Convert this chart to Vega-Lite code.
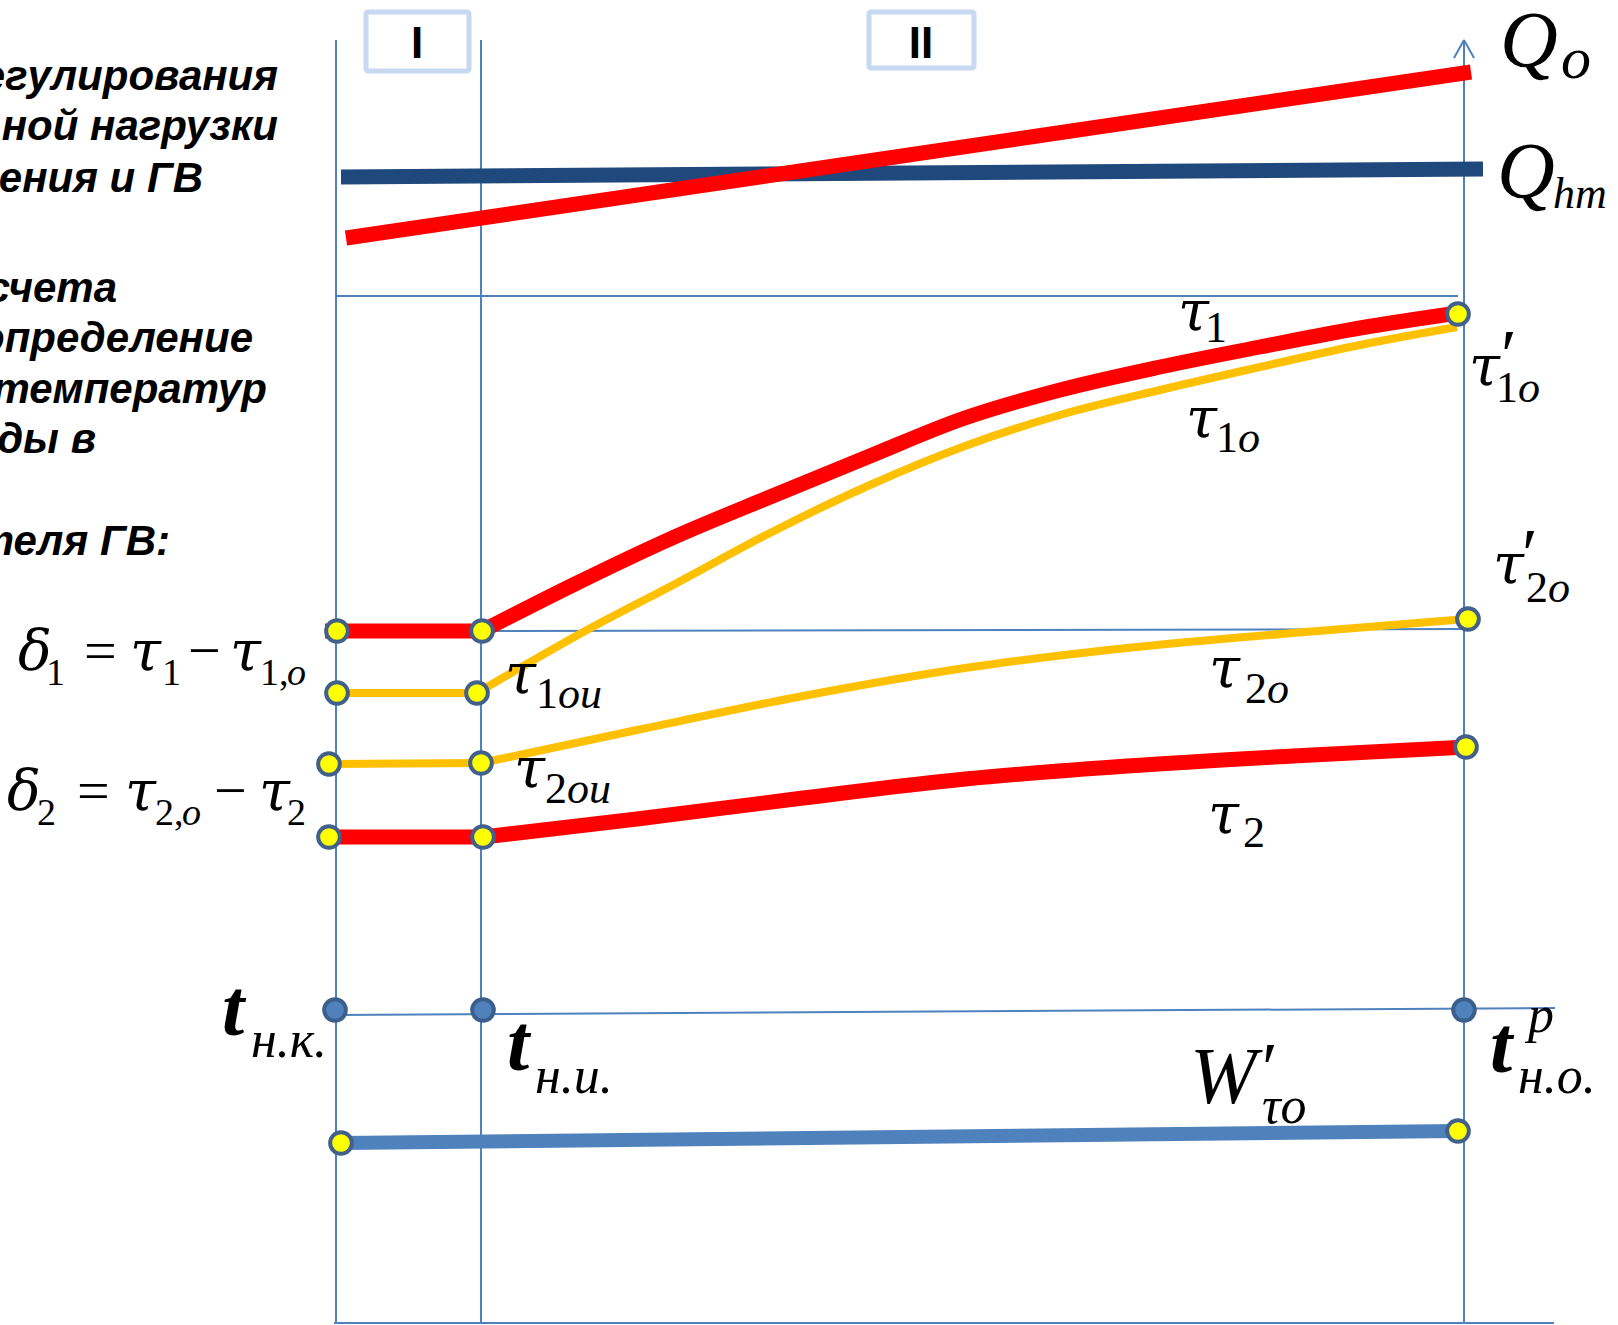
{
  "$schema": "https://vega.github.io/schema/vega-lite/v6.json",
  "width": 1618,
  "height": 1325,
  "autosize": {"type": "none"},
  "padding": 0,
  "background": "white",
  "config": {"view": {"stroke": null}},
  "datasets": {
    "guides": [
      {"x": 336, "y": 40, "x2": 336, "y2": 1323},
      {"x": 481, "y": 40, "x2": 481, "y2": 1323},
      {"x": 1464, "y": 40, "x2": 1464, "y2": 1323},
      {"x": 336, "y": 296, "x2": 1458, "y2": 296},
      {"x": 482, "y": 631, "x2": 1463, "y2": 629},
      {"x": 335, "y": 1015, "x2": 1555, "y2": 1008},
      {"x": 334, "y": 1323, "x2": 1554, "y2": 1323},
      {"x": 1454, "y": 58, "x2": 1464, "y2": 40},
      {"x": 1464, "y": 40, "x2": 1474, "y2": 58}
    ],
    "boxes": [
      {"label": "I", "x": 366, "y": 12, "x2": 469, "y2": 71},
      {"label": "II", "x": 869, "y": 12, "x2": 974, "y2": 68}
    ],
    "curves": [
      {"series": "Qhm", "seg": "Qhm", "x": 341, "y": 177},
      {"series": "Qhm", "seg": "Qhm", "x": 1483, "y": 169},
      {"series": "Qo", "seg": "Qo", "x": 346, "y": 238},
      {"series": "Qo", "seg": "Qo", "x": 1471, "y": 72},
      {"series": "tau1o", "seg": "tau1o-flat", "x": 337, "y": 693},
      {"series": "tau1o", "seg": "tau1o-flat", "x": 477, "y": 693},
      {"series": "tau1o", "seg": "tau1o-rise", "x": 477, "y": 693},
      {"series": "tau1o", "seg": "tau1o-rise", "x": 587, "y": 630},
      {"series": "tau1o", "seg": "tau1o-rise", "x": 675, "y": 584},
      {"series": "tau1o", "seg": "tau1o-rise", "x": 770, "y": 533},
      {"series": "tau1o", "seg": "tau1o-rise", "x": 870, "y": 485},
      {"series": "tau1o", "seg": "tau1o-rise", "x": 965, "y": 446},
      {"series": "tau1o", "seg": "tau1o-rise", "x": 1060, "y": 415},
      {"series": "tau1o", "seg": "tau1o-rise", "x": 1160, "y": 390},
      {"series": "tau1o", "seg": "tau1o-rise", "x": 1260, "y": 367},
      {"series": "tau1o", "seg": "tau1o-rise", "x": 1360, "y": 345},
      {"series": "tau1o", "seg": "tau1o-rise", "x": 1457, "y": 327},
      {"series": "tau2o", "seg": "tau2o-flat", "x": 329, "y": 764},
      {"series": "tau2o", "seg": "tau2o-flat", "x": 481, "y": 763},
      {"series": "tau2o", "seg": "tau2o-rise", "x": 481, "y": 763},
      {"series": "tau2o", "seg": "tau2o-rise", "x": 637, "y": 730},
      {"series": "tau2o", "seg": "tau2o-rise", "x": 803, "y": 696},
      {"series": "tau2o", "seg": "tau2o-rise", "x": 965, "y": 668},
      {"series": "tau2o", "seg": "tau2o-rise", "x": 1127, "y": 648},
      {"series": "tau2o", "seg": "tau2o-rise", "x": 1293, "y": 633},
      {"series": "tau2o", "seg": "tau2o-rise", "x": 1467, "y": 619},
      {"series": "tau1", "seg": "tau1-flat", "x": 325, "y": 631},
      {"series": "tau1", "seg": "tau1-flat", "x": 482, "y": 631},
      {"series": "tau1", "seg": "tau1-rise", "x": 482, "y": 631},
      {"series": "tau1", "seg": "tau1-rise", "x": 575, "y": 584},
      {"series": "tau1", "seg": "tau1-rise", "x": 670, "y": 539},
      {"series": "tau1", "seg": "tau1-rise", "x": 770, "y": 497},
      {"series": "tau1", "seg": "tau1-rise", "x": 870, "y": 456},
      {"series": "tau1", "seg": "tau1-rise", "x": 962, "y": 419},
      {"series": "tau1", "seg": "tau1-rise", "x": 1060, "y": 390},
      {"series": "tau1", "seg": "tau1-rise", "x": 1160, "y": 367},
      {"series": "tau1", "seg": "tau1-rise", "x": 1260, "y": 347},
      {"series": "tau1", "seg": "tau1-rise", "x": 1360, "y": 328},
      {"series": "tau1", "seg": "tau1-rise", "x": 1458, "y": 313},
      {"series": "tau2", "seg": "tau2-flat", "x": 329, "y": 837},
      {"series": "tau2", "seg": "tau2-flat", "x": 483, "y": 837},
      {"series": "tau2", "seg": "tau2-rise", "x": 483, "y": 837},
      {"series": "tau2", "seg": "tau2-rise", "x": 637, "y": 819},
      {"series": "tau2", "seg": "tau2-rise", "x": 803, "y": 798},
      {"series": "tau2", "seg": "tau2-rise", "x": 965, "y": 779},
      {"series": "tau2", "seg": "tau2-rise", "x": 1127, "y": 766},
      {"series": "tau2", "seg": "tau2-rise", "x": 1293, "y": 756},
      {"series": "tau2", "seg": "tau2-rise", "x": 1466, "y": 747},
      {"series": "W", "seg": "W", "x": 341, "y": 1143},
      {"series": "W", "seg": "W", "x": 1458, "y": 1131}
    ],
    "markers": [
      {"x": 337, "y": 631}, {"x": 482, "y": 631},
      {"x": 337, "y": 693}, {"x": 477, "y": 693},
      {"x": 329, "y": 764}, {"x": 481, "y": 763},
      {"x": 329, "y": 837}, {"x": 483, "y": 837},
      {"x": 1458, "y": 314}, {"x": 1468, "y": 619}, {"x": 1466, "y": 747},
      {"x": 341, "y": 1143}, {"x": 1458, "y": 1131}
    ],
    "nodes": [
      {"x": 335, "y": 1010}, {"x": 483, "y": 1010}, {"x": 1464, "y": 1010}
    ],
    "labels": [
      {"kind": "para", "t": "егулирования", "x": 278, "y": 90},
      {"kind": "para", "t": "ной нагрузки", "x": 278, "y": 140},
      {"kind": "para", "t": "ения и ГВ", "x": 203, "y": 192},
      {"kind": "para", "t": "счета", "x": 117, "y": 302},
      {"kind": "para", "t": "определение", "x": 253, "y": 352},
      {"kind": "para", "t": "температур", "x": 267, "y": 403},
      {"kind": "para", "t": "ды в", "x": 96, "y": 453},
      {"kind": "para", "t": "теля ГВ:", "x": 170, "y": 555},
      {"kind": "roman", "t": "I", "x": 417, "y": 58},
      {"kind": "roman", "t": "II", "x": 921, "y": 58},
      {"kind": "sym80", "t": "Q", "x": 1500, "y": 67},
      {"kind": "let60", "t": "o", "x": 1561, "y": 78},
      {"kind": "sym80", "t": "Q", "x": 1497, "y": 198},
      {"kind": "let44", "t": "hm", "x": 1553, "y": 208},
      {"kind": "greek", "t": "τ", "x": 1178, "y": 330},
      {"kind": "num44", "t": "1", "x": 1205, "y": 342},
      {"kind": "greek", "t": "τ", "x": 1469, "y": 385},
      {"kind": "prime", "t": "′", "x": 1501, "y": 379},
      {"kind": "num44", "t": "1", "x": 1496, "y": 402},
      {"kind": "let44", "t": "o", "x": 1518, "y": 402},
      {"kind": "greek", "t": "τ", "x": 1186, "y": 437},
      {"kind": "num44", "t": "1", "x": 1216, "y": 452},
      {"kind": "let44", "t": "o", "x": 1238, "y": 452},
      {"kind": "greek", "t": "τ", "x": 1493, "y": 583},
      {"kind": "prime", "t": "′", "x": 1522, "y": 578},
      {"kind": "num44", "t": "2", "x": 1526, "y": 602},
      {"kind": "let44", "t": "o", "x": 1548, "y": 602},
      {"kind": "greek", "t": "τ", "x": 1209, "y": 687},
      {"kind": "num44", "t": "2", "x": 1245, "y": 703},
      {"kind": "let44", "t": "o", "x": 1267, "y": 703},
      {"kind": "greek", "t": "τ", "x": 1208, "y": 833},
      {"kind": "num44", "t": "2", "x": 1243, "y": 847},
      {"kind": "greek", "t": "τ", "x": 505, "y": 693},
      {"kind": "num44", "t": "1", "x": 536, "y": 708},
      {"kind": "let44", "t": "ou", "x": 558, "y": 708},
      {"kind": "greek", "t": "τ", "x": 514, "y": 787},
      {"kind": "num44", "t": "2", "x": 545, "y": 803},
      {"kind": "let44", "t": "ou", "x": 567, "y": 803},
      {"kind": "greek", "t": "δ", "x": 18, "y": 670},
      {"kind": "num38", "t": "1", "x": 46, "y": 685},
      {"kind": "op", "t": "=", "x": 84, "y": 670},
      {"kind": "greek", "t": "τ", "x": 130, "y": 670},
      {"kind": "num38", "t": "1", "x": 162, "y": 685},
      {"kind": "op", "t": "−", "x": 188, "y": 670},
      {"kind": "greek", "t": "τ", "x": 230, "y": 670},
      {"kind": "num38", "t": "1,", "x": 260, "y": 685},
      {"kind": "let38", "t": "o", "x": 287, "y": 685},
      {"kind": "greek", "t": "δ", "x": 7, "y": 810},
      {"kind": "num38", "t": "2", "x": 37, "y": 825},
      {"kind": "op", "t": "=", "x": 77, "y": 810},
      {"kind": "greek", "t": "τ", "x": 125, "y": 810},
      {"kind": "num38", "t": "2,", "x": 155, "y": 825},
      {"kind": "let38", "t": "o", "x": 182, "y": 825},
      {"kind": "op", "t": "−", "x": 214, "y": 810},
      {"kind": "greek", "t": "τ", "x": 259, "y": 810},
      {"kind": "num38", "t": "2", "x": 287, "y": 825},
      {"kind": "tbold", "t": "t", "x": 222, "y": 1035},
      {"kind": "let50", "t": "н.к.", "x": 251, "y": 1057},
      {"kind": "tbold", "t": "t", "x": 507, "y": 1070},
      {"kind": "let50", "t": "н.и.", "x": 535, "y": 1093},
      {"kind": "tbold", "t": "t", "x": 1490, "y": 1072},
      {"kind": "let50", "t": "p", "x": 1528, "y": 1032},
      {"kind": "let50", "t": "н.о.", "x": 1518, "y": 1093},
      {"kind": "sym80", "t": "W", "x": 1190, "y": 1103},
      {"kind": "prime", "t": "′", "x": 1262, "y": 1092},
      {"kind": "let50", "t": "τo", "x": 1262, "y": 1123}
    ]
  },
  "encoding": {
    "x": {"field": "x", "type": "quantitative", "scale": {"domain": [0, 1618], "nice": false, "zero": false}, "axis": null},
    "y": {"field": "y", "type": "quantitative", "scale": {"domain": [0, 1325], "nice": false, "zero": false, "reverse": true}, "axis": null}
  },
  "layer": [
    {
      "data": {"name": "guides"},
      "mark": {"type": "rule", "stroke": "#4f81bd", "strokeWidth": 2},
      "encoding": {"x2": {"field": "x2"}, "y2": {"field": "y2"}}
    },
    {
      "data": {"name": "boxes"},
      "mark": {"type": "rect", "fill": "white", "stroke": "#c6d9f1", "strokeWidth": 5, "cornerRadius": 2},
      "encoding": {"x2": {"field": "x2"}, "y2": {"field": "y2"}}
    },
    {
      "data": {"name": "curves"},
      "transform": [{"filter": "datum.series === 'Qhm'"}],
      "mark": {"type": "line", "stroke": "#1f497d", "strokeWidth": 15, "strokeCap": "butt"},
      "encoding": {"detail": {"field": "seg"}}
    },
    {
      "data": {"name": "curves"},
      "transform": [{"filter": "datum.series === 'W'"}],
      "mark": {"type": "line", "stroke": "#4f81bd", "strokeWidth": 14, "strokeCap": "butt"},
      "encoding": {"detail": {"field": "seg"}}
    },
    {
      "data": {"name": "curves"},
      "transform": [{"filter": "datum.series === 'tau1o' || datum.series === 'tau2o'"}],
      "mark": {"type": "line", "stroke": "#ffc000", "strokeWidth": 8, "strokeCap": "butt", "interpolate": "monotone"},
      "encoding": {"detail": {"field": "seg"}}
    },
    {
      "data": {"name": "curves"},
      "transform": [{"filter": "datum.series === 'Qo' || datum.series === 'tau1' || datum.series === 'tau2'"}],
      "mark": {"type": "line", "stroke": "#ff0000", "strokeWidth": 15, "strokeCap": "butt", "interpolate": "monotone"},
      "encoding": {"detail": {"field": "seg"}}
    },
    {
      "data": {"name": "markers"},
      "mark": {"type": "point", "shape": "circle", "size": 470, "filled": true, "fill": "#ffff00", "stroke": "#41608c", "strokeWidth": 4, "opacity": 1, "fillOpacity": 1, "strokeOpacity": 1}
    },
    {
      "data": {"name": "nodes"},
      "mark": {"type": "point", "shape": "circle", "size": 470, "filled": true, "fill": "#4f81bd", "stroke": "#3b5e8c", "strokeWidth": 4, "opacity": 1, "fillOpacity": 1, "strokeOpacity": 1}
    },
    {
      "data": {"name": "labels"},
      "transform": [{"filter": "datum.kind === 'para'"}],
      "mark": {"type": "text", "font": "Liberation Sans", "fontSize": 42, "fontWeight": "bold", "fontStyle": "italic", "align": "right", "baseline": "alphabetic", "fill": "black"},
      "encoding": {"text": {"field": "t"}}
    },
    {
      "data": {"name": "labels"},
      "transform": [{"filter": "datum.kind === 'roman'"}],
      "mark": {"type": "text", "font": "Liberation Sans", "fontSize": 44, "fontWeight": "bold", "align": "center", "baseline": "alphabetic", "fill": "black"},
      "encoding": {"text": {"field": "t"}}
    },
    {
      "data": {"name": "labels"},
      "transform": [{"filter": "datum.kind === 'sym80'"}],
      "mark": {"type": "text", "font": "Liberation Serif", "fontSize": 80, "fontStyle": "italic", "align": "left", "baseline": "alphabetic", "fill": "black"},
      "encoding": {"text": {"field": "t"}}
    },
    {
      "data": {"name": "labels"},
      "transform": [{"filter": "datum.kind === 'greek'"}],
      "mark": {"type": "text", "font": "DejaVu Serif", "fontSize": 56, "fontStyle": "italic", "align": "left", "baseline": "alphabetic", "fill": "black"},
      "encoding": {"text": {"field": "t"}}
    },
    {
      "data": {"name": "labels"},
      "transform": [{"filter": "datum.kind === 'let60'"}],
      "mark": {"type": "text", "font": "Liberation Serif", "fontSize": 60, "fontStyle": "italic", "align": "left", "baseline": "alphabetic", "fill": "black"},
      "encoding": {"text": {"field": "t"}}
    },
    {
      "data": {"name": "labels"},
      "transform": [{"filter": "datum.kind === 'tbold'"}],
      "mark": {"type": "text", "font": "Liberation Serif", "fontSize": 80, "fontStyle": "italic", "fontWeight": "bold", "align": "left", "baseline": "alphabetic", "fill": "black"},
      "encoding": {"text": {"field": "t"}}
    },
    {
      "data": {"name": "labels"},
      "transform": [{"filter": "datum.kind === 'op'"}],
      "mark": {"type": "text", "font": "Liberation Serif", "fontSize": 58, "align": "left", "baseline": "alphabetic", "fill": "black"},
      "encoding": {"text": {"field": "t"}}
    },
    {
      "data": {"name": "labels"},
      "transform": [{"filter": "datum.kind === 'prime'"}],
      "mark": {"type": "text", "font": "Liberation Serif", "fontSize": 72, "align": "left", "baseline": "alphabetic", "fill": "black"},
      "encoding": {"text": {"field": "t"}}
    },
    {
      "data": {"name": "labels"},
      "transform": [{"filter": "datum.kind === 'num44'"}],
      "mark": {"type": "text", "font": "Liberation Serif", "fontSize": 44, "align": "left", "baseline": "alphabetic", "fill": "black"},
      "encoding": {"text": {"field": "t"}}
    },
    {
      "data": {"name": "labels"},
      "transform": [{"filter": "datum.kind === 'let44'"}],
      "mark": {"type": "text", "font": "Liberation Serif", "fontSize": 44, "fontStyle": "italic", "align": "left", "baseline": "alphabetic", "fill": "black"},
      "encoding": {"text": {"field": "t"}}
    },
    {
      "data": {"name": "labels"},
      "transform": [{"filter": "datum.kind === 'num38'"}],
      "mark": {"type": "text", "font": "Liberation Serif", "fontSize": 38, "align": "left", "baseline": "alphabetic", "fill": "black"},
      "encoding": {"text": {"field": "t"}}
    },
    {
      "data": {"name": "labels"},
      "transform": [{"filter": "datum.kind === 'let38'"}],
      "mark": {"type": "text", "font": "Liberation Serif", "fontSize": 38, "fontStyle": "italic", "align": "left", "baseline": "alphabetic", "fill": "black"},
      "encoding": {"text": {"field": "t"}}
    },
    {
      "data": {"name": "labels"},
      "transform": [{"filter": "datum.kind === 'let50'"}],
      "mark": {"type": "text", "font": "Liberation Serif", "fontSize": 52, "fontStyle": "italic", "align": "left", "baseline": "alphabetic", "fill": "black"},
      "encoding": {"text": {"field": "t"}}
    }
  ]
}
